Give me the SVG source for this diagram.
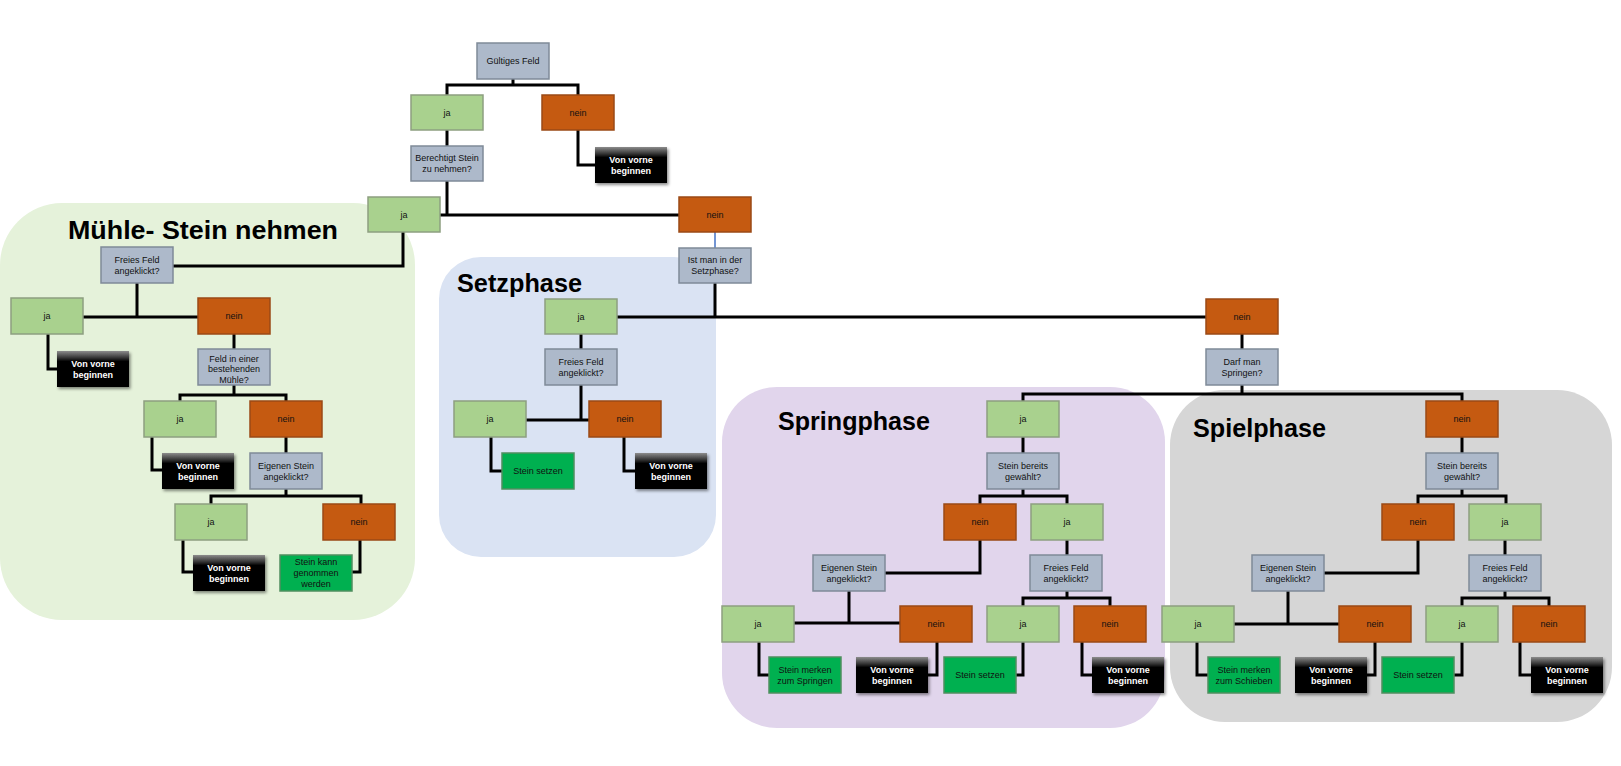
<svg xmlns="http://www.w3.org/2000/svg" width="1621" height="766" viewBox="0 0 1621 766">
<defs>
<linearGradient id="blk" x1="0" y1="0" x2="0" y2="1">
<stop offset="0" stop-color="#8c8c8c"/>
<stop offset="0.3" stop-color="#000"/>
<stop offset="1" stop-color="#000"/>
</linearGradient>
<filter id="sh" x="-20%" y="-20%" width="150%" height="160%">
<feDropShadow dx="1.5" dy="2" stdDeviation="1.5" flood-color="#000" flood-opacity="0.45"/>
</filter>
<style>
.ja{fill:#a9d18e;stroke:#8d9f80;stroke-width:1.5}
.nein{fill:#c55a11;stroke:#9a4a16;stroke-width:1.5}
.q{fill:#adb9ca;stroke:#7f8a98;stroke-width:1.5}
.ok{fill:#00b050;stroke:#4f8f5f;stroke-width:1.5}
.vv{fill:url(#blk);filter:url(#sh)}
.c{fill:none;stroke:#000;stroke-width:3;stroke-linecap:square;stroke-linejoin:miter}
.t{font-family:"Liberation Sans",Arial,sans-serif;font-size:9px;text-anchor:middle;fill:#111}
.tw{font-family:"Liberation Sans",Arial,sans-serif;font-size:9px;font-weight:bold;text-anchor:middle;fill:#fff}
.title{font-family:"Liberation Sans",Arial,sans-serif;font-size:26px;font-weight:bold;fill:#000}
</style>
</defs>
<rect width="1621" height="766" fill="#fff"/>
<g id="regions">
<rect id="region-muehle" x="0" y="203" width="415" height="417" rx="62" fill="#e5f2da"/>
<rect id="region-setz" x="439" y="257" width="277" height="300" rx="42" fill="#dae3f3"/>
<rect id="region-spring" x="722" y="387" width="443" height="341" rx="55" fill="#e1d5ec"/>
<rect id="region-spiel" x="1170" y="390" width="442" height="332" rx="55" fill="#d6d6d6"/>
<text class="title" x="68" y="238.5" textLength="270" lengthAdjust="spacingAndGlyphs">Mühle- Stein nehmen</text>
<text class="title" x="457" y="291.5" textLength="125" lengthAdjust="spacingAndGlyphs">Setzphase</text>
<text class="title" x="778" y="429.5" textLength="152" lengthAdjust="spacingAndGlyphs">Springphase</text>
<text class="title" x="1193" y="436.5" textLength="133" lengthAdjust="spacingAndGlyphs">Spielphase</text>
</g>
<g id="connectors">
<path class="c" d="M513,79 V85 M447,95 V85 H578 V95"/>
<path class="c" d="M447,130 V146"/>
<path class="c" d="M578,130 V165 H595"/>
<path class="c" d="M447,181 V215 M440,215 H679"/>
<path d="M715,232 V248" stroke="#4472c4" stroke-width="1.5" fill="none"/>
<path class="c" d="M403,232 V266 H173"/>
<path class="c" d="M137,283 V317 M83,317 H198"/>
<path class="c" d="M48,334 V369 H57"/>
<path class="c" d="M234,334 V349"/>
<path class="c" d="M234,385 V395 M180,401 V395 H286 V401"/>
<path class="c" d="M152,437 V470 H162"/>
<path class="c" d="M286,437 V453"/>
<path class="c" d="M286,489 V496 M211,504 V496 H361 V504"/>
<path class="c" d="M183,540 V572 H193"/>
<path class="c" d="M360,540 V572 H352"/>
<path class="c" d="M715,283 V317 M617,317 H1206"/>
<path class="c" d="M581,334 V349"/>
<path class="c" d="M581,385 V420 M527,420 H589"/>
<path class="c" d="M491,437 V471 H502"/>
<path class="c" d="M624,437 V471 H635"/>
<path class="c" d="M1242,334 V349"/>
<path class="c" d="M1242,385 V394 M1023,401 V394 H1462 V401"/>
<path class="c" d="M1023,437 V453"/>
<path class="c" d="M1023,489 V496 M980,504 V496 H1067 V504"/>
<path class="c" d="M980,540 V573 H885"/>
<path class="c" d="M1067,540 V555"/>
<path class="c" d="M849,591 V623 M795,623 H900"/>
<path class="c" d="M1067,591 V598 M1023,606 V598 H1110 V606"/>
<path class="c" d="M759,642 V675 H769"/>
<path class="c" d="M937,642 V675 H929"/>
<path class="c" d="M1023,642 V675 H1016"/>
<path class="c" d="M1082,642 V675 H1092"/>
<path class="c" d="M1462,437 V453"/>
<path class="c" d="M1462,489 V496 M1418,504 V496 H1506 V504"/>
<path class="c" d="M1418,540 V573 H1324"/>
<path class="c" d="M1505,540 V555"/>
<path class="c" d="M1288,591 V624 M1234,624 H1339"/>
<path class="c" d="M1505,591 V598 M1462,606 V598 H1549 V606"/>
<path class="c" d="M1197,642 V675 H1208"/>
<path class="c" d="M1375,642 V675 H1367"/>
<path class="c" d="M1462,642 V675 H1454"/>
<path class="c" d="M1520,642 V675 H1531"/>
</g>
<g id="n-gueltig"><rect class="q" x="477" y="43" width="72" height="36"/><text class="t" x="513" y="64">Gültiges Feld</text></g>
<g id="n-ja1"><rect class="ja" x="411" y="95" width="72" height="35"/><text class="t" x="447" y="115.5">ja</text></g>
<g id="n-nein1"><rect class="nein" x="542" y="95" width="72" height="35"/><text class="t" x="578" y="115.5">nein</text></g>
<g id="n-vv1"><rect class="vv" x="595" y="147" width="72" height="36"/><text class="tw" x="631" y="162.5">Von vorne</text><text class="tw" x="631" y="173.5">beginnen</text></g>
<g id="n-berechtigt"><rect class="q" x="411" y="146" width="72" height="35"/><text class="t" x="447" y="161">Berechtigt Stein</text><text class="t" x="447" y="172">zu nehmen?</text></g>
<g id="n-ja2"><rect class="ja" x="368" y="197" width="72" height="35"/><text class="t" x="404" y="217.5">ja</text></g>
<g id="n-nein2"><rect class="nein" x="679" y="197" width="72" height="35"/><text class="t" x="715" y="217.5">nein</text></g>
<g id="n-istman"><rect class="q" x="679" y="248" width="72" height="35"/><text class="t" x="715" y="263">Ist man in der</text><text class="t" x="715" y="274">Setzphase?</text></g>

<g id="m-freies"><rect class="q" x="101" y="247" width="72" height="36"/><text class="t" x="137" y="262.5">Freies Feld</text><text class="t" x="137" y="273.5">angeklickt?</text></g>
<g id="m-ja1"><rect class="ja" x="11" y="298" width="72" height="36"/><text class="t" x="47" y="319">ja</text></g>
<g id="m-nein1"><rect class="nein" x="198" y="298" width="72" height="36"/><text class="t" x="234" y="319">nein</text></g>
<g id="m-vv1"><rect class="vv" x="57" y="351" width="72" height="36"/><text class="tw" x="93" y="366.5">Von vorne</text><text class="tw" x="93" y="377.5">beginnen</text></g>
<g id="m-feld"><rect class="q" x="198" y="349" width="72" height="36"/><text class="t" x="234" y="361.5">Feld in einer</text><text class="t" x="234" y="372">bestehenden</text><text class="t" x="234" y="382.5">Mühle?</text></g>
<g id="m-ja2"><rect class="ja" x="144" y="401" width="72" height="36"/><text class="t" x="180" y="422">ja</text></g>
<g id="m-nein2"><rect class="nein" x="250" y="401" width="72" height="36"/><text class="t" x="286" y="422">nein</text></g>
<g id="m-vv2"><rect class="vv" x="162" y="453" width="72" height="36"/><text class="tw" x="198" y="468.5">Von vorne</text><text class="tw" x="198" y="479.5">beginnen</text></g>
<g id="m-eigenen"><rect class="q" x="250" y="453" width="72" height="36"/><text class="t" x="286" y="468.5">Eigenen Stein</text><text class="t" x="286" y="479.5">angeklickt?</text></g>
<g id="m-ja3"><rect class="ja" x="175" y="504" width="72" height="36"/><text class="t" x="211" y="525">ja</text></g>
<g id="m-nein3"><rect class="nein" x="323" y="504" width="72" height="36"/><text class="t" x="359" y="525">nein</text></g>
<g id="m-vv3"><rect class="vv" x="193" y="555" width="72" height="36"/><text class="tw" x="229" y="570.5">Von vorne</text><text class="tw" x="229" y="581.5">beginnen</text></g>
<g id="m-kann"><rect class="ok" x="280" y="555" width="72" height="36"/><text class="t" x="316" y="565">Stein kann</text><text class="t" x="316" y="576">genommen</text><text class="t" x="316" y="587">werden</text></g>

<g id="s-ja1"><rect class="ja" x="545" y="299" width="72" height="35"/><text class="t" x="581" y="319.5">ja</text></g>
<g id="s-freies"><rect class="q" x="545" y="349" width="72" height="36"/><text class="t" x="581" y="364.5">Freies Feld</text><text class="t" x="581" y="375.5">angeklickt?</text></g>
<g id="s-ja2"><rect class="ja" x="454" y="401" width="72" height="36"/><text class="t" x="490" y="422">ja</text></g>
<g id="s-nein2"><rect class="nein" x="589" y="401" width="72" height="36"/><text class="t" x="625" y="422">nein</text></g>
<g id="s-setzen"><rect class="ok" x="502" y="453" width="72" height="36"/><text class="t" x="538" y="474">Stein setzen</text></g>
<g id="s-vv"><rect class="vv" x="635" y="453" width="72" height="36"/><text class="tw" x="671" y="468.5">Von vorne</text><text class="tw" x="671" y="479.5">beginnen</text></g>

<g id="d-nein"><rect class="nein" x="1206" y="299" width="72" height="35"/><text class="t" x="1242" y="319.5">nein</text></g>
<g id="d-darf"><rect class="q" x="1206" y="349" width="72" height="36"/><text class="t" x="1242" y="364.5">Darf man</text><text class="t" x="1242" y="375.5">Springen?</text></g>

<g id="sp-ja1"><rect class="ja" x="987" y="401" width="72" height="36"/><text class="t" x="1023" y="422">ja</text></g>
<g id="sp-bereits"><rect class="q" x="987" y="453" width="72" height="36"/><text class="t" x="1023" y="468.5">Stein bereits</text><text class="t" x="1023" y="479.5">gewählt?</text></g>
<g id="sp-nein2"><rect class="nein" x="944" y="504" width="72" height="36"/><text class="t" x="980" y="525">nein</text></g>
<g id="sp-ja2"><rect class="ja" x="1031" y="504" width="72" height="36"/><text class="t" x="1067" y="525">ja</text></g>
<g id="sp-eigenen"><rect class="q" x="813" y="555" width="72" height="36"/><text class="t" x="849" y="570.5">Eigenen Stein</text><text class="t" x="849" y="581.5">angeklickt?</text></g>
<g id="sp-freies"><rect class="q" x="1030" y="555" width="72" height="36"/><text class="t" x="1066" y="570.5">Freies Feld</text><text class="t" x="1066" y="581.5">angeklickt?</text></g>
<g id="sp-ja3"><rect class="ja" x="722" y="606" width="72" height="36"/><text class="t" x="758" y="627">ja</text></g>
<g id="sp-nein3"><rect class="nein" x="900" y="606" width="72" height="36"/><text class="t" x="936" y="627">nein</text></g>
<g id="sp-ja4"><rect class="ja" x="987" y="606" width="72" height="36"/><text class="t" x="1023" y="627">ja</text></g>
<g id="sp-nein4"><rect class="nein" x="1074" y="606" width="72" height="36"/><text class="t" x="1110" y="627">nein</text></g>
<g id="sp-merken"><rect class="ok" x="769" y="657" width="72" height="36"/><text class="t" x="805" y="672.5">Stein merken</text><text class="t" x="805" y="683.5">zum Springen</text></g>
<g id="sp-vv1"><rect class="vv" x="856" y="657" width="72" height="36"/><text class="tw" x="892" y="672.5">Von vorne</text><text class="tw" x="892" y="683.5">beginnen</text></g>
<g id="sp-setzen"><rect class="ok" x="944" y="657" width="72" height="36"/><text class="t" x="980" y="678">Stein setzen</text></g>
<g id="sp-vv2"><rect class="vv" x="1092" y="657" width="72" height="36"/><text class="tw" x="1128" y="672.5">Von vorne</text><text class="tw" x="1128" y="683.5">beginnen</text></g>

<g id="pl-nein1"><rect class="nein" x="1426" y="401" width="72" height="36"/><text class="t" x="1462" y="422">nein</text></g>
<g id="pl-bereits"><rect class="q" x="1426" y="453" width="72" height="36"/><text class="t" x="1462" y="468.5">Stein bereits</text><text class="t" x="1462" y="479.5">gewählt?</text></g>
<g id="pl-nein2"><rect class="nein" x="1382" y="504" width="72" height="36"/><text class="t" x="1418" y="525">nein</text></g>
<g id="pl-ja2"><rect class="ja" x="1469" y="504" width="72" height="36"/><text class="t" x="1505" y="525">ja</text></g>
<g id="pl-eigenen"><rect class="q" x="1252" y="555" width="72" height="36"/><text class="t" x="1288" y="570.5">Eigenen Stein</text><text class="t" x="1288" y="581.5">angeklickt?</text></g>
<g id="pl-freies"><rect class="q" x="1469" y="555" width="72" height="36"/><text class="t" x="1505" y="570.5">Freies Feld</text><text class="t" x="1505" y="581.5">angeklickt?</text></g>
<g id="pl-ja3"><rect class="ja" x="1162" y="606" width="72" height="36"/><text class="t" x="1198" y="627">ja</text></g>
<g id="pl-nein3"><rect class="nein" x="1339" y="606" width="72" height="36"/><text class="t" x="1375" y="627">nein</text></g>
<g id="pl-ja4"><rect class="ja" x="1426" y="606" width="72" height="36"/><text class="t" x="1462" y="627">ja</text></g>
<g id="pl-nein4"><rect class="nein" x="1513" y="606" width="72" height="36"/><text class="t" x="1549" y="627">nein</text></g>
<g id="pl-merken"><rect class="ok" x="1208" y="657" width="72" height="36"/><text class="t" x="1244" y="672.5">Stein merken</text><text class="t" x="1244" y="683.5">zum Schieben</text></g>
<g id="pl-vv1"><rect class="vv" x="1295" y="657" width="72" height="36"/><text class="tw" x="1331" y="672.5">Von vorne</text><text class="tw" x="1331" y="683.5">beginnen</text></g>
<g id="pl-setzen"><rect class="ok" x="1382" y="657" width="72" height="36"/><text class="t" x="1418" y="678">Stein setzen</text></g>
<g id="pl-vv2"><rect class="vv" x="1531" y="657" width="72" height="36"/><text class="tw" x="1567" y="672.5">Von vorne</text><text class="tw" x="1567" y="683.5">beginnen</text></g>
</svg>
